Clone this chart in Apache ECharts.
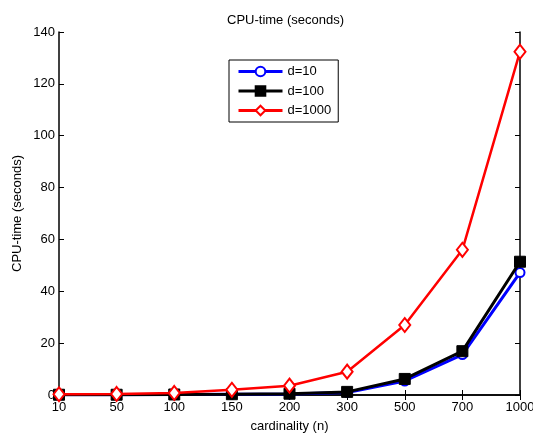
<!DOCTYPE html>
<html><head><meta charset="utf-8">
<script src="https://cdn.jsdelivr.net/npm/echarts@6/dist/echarts.min.js"></script>
<style>html,body{margin:0;padding:0;background:#fff}#c{width:533px;height:434px}</style>
</head><body><div id="c"></div>
<script>
var categories = ['10','50','100','150','200','300','500','700','1000'];
var d10 = [0.1, 0.1, 0.2, 0.3, 0.4, 1.0, 5.4, 15.6, 47.2];
var d100 = [0.1, 0.1, 0.2, 0.3, 0.5, 1.2, 6.2, 16.9, 51.4];
var d1000 = [0.3, 0.4, 0.8, 2.0, 3.6, 9.0, 27.0, 56.0, 132.4];
var yTicks = [0, 20, 40, 60, 80, 100, 120, 140];

var font = 'Liberation Sans, Arial, sans-serif';
var fs = 13;
var chart = echarts.init(document.getElementById('c'));
chart.setOption({
  animation: false,
  backgroundColor: '#fff',
  title: {text: 'CPU-time (seconds)', left: 222, top: 9,
    textStyle: {fontFamily: font, fontSize: 13, fontWeight: 'normal', color: '#000'}},
  grid: {left: 59, right: 13, top: 32, bottom: 39, containLabel: false, outerBoundsMode: 'none'},
  legend: {
    orient: 'vertical', left: 229, top: 60, width: 109,
    padding: [5, 7, 5, 8], itemGap: 6.5, itemWidth: 44, itemHeight: 12,
    borderColor: '#000', borderWidth: 1, backgroundColor: '#fff',
    textStyle: {fontFamily: font, fontSize: fs, color: '#000'},
    data: [
      {name: 'd=10', lineStyle: {width: 3}},
      {name: 'd=100', lineStyle: {width: 3}},
      {name: 'd=1000', lineStyle: {width: 3}}
    ]
  },
  xAxis: [{
    type: 'category', data: categories, boundaryGap: false,
    name: 'cardinality (n)', nameLocation: 'middle', nameGap: 25,
    nameTextStyle: {fontFamily: font, fontSize: fs, color: '#000'},
    axisLine: {lineStyle: {color: '#000', width: 1.5}},
    axisTick: {inside: true, length: 5, lineStyle: {color: '#000'}},
    axisLabel: {fontFamily: font, fontSize: fs, color: '#000', margin: 6, interval: 0},
    splitLine: {show: false}
  }, {
    type: 'category', data: categories, boundaryGap: false, position: 'top',
    axisLine: {lineStyle: {color: '#000', width: 1.5}},
    axisTick: {inside: true, length: 5, lineStyle: {color: '#000'}},
    axisLabel: {show: false}, splitLine: {show: false}
  }],
  yAxis: [{
    type: 'value', min: 0, max: 140, interval: 20,
    name: 'CPU-time (seconds)', nameLocation: 'middle', nameGap: 35, nameMoveOverlap: false,
    nameTextStyle: {fontFamily: font, fontSize: fs, color: '#000'},
    axisLine: {show: true, lineStyle: {color: '#000', width: 1.5}},
    axisTick: {show: true, inside: true, length: 5, lineStyle: {color: '#000'}},
    axisLabel: {fontFamily: font, fontSize: fs, color: '#000', margin: 4,
      formatter: function (v) { return yTicks.indexOf(v) >= 0 ? String(v) : ''; }},
    splitLine: {show: false}
  }, {
    type: 'value', min: 0, max: 140, interval: 20, position: 'right',
    axisLine: {show: true, lineStyle: {color: '#000', width: 1.5}},
    axisTick: {show: true, inside: true, length: 5, lineStyle: {color: '#000'}},
    axisLabel: {show: false}, splitLine: {show: false}
  }],
  series: [{
    name: 'd=10', type: 'line', data: d10, xAxisIndex: 0, yAxisIndex: 0,
    symbol: 'emptyCircle', symbolSize: 9,
    lineStyle: {color: '#0000ff', width: 3}, itemStyle: {color: '#0000ff', borderWidth: 2.5},
    z: 2
  }, {
    name: 'd=100', type: 'line', data: d100,
    symbol: 'rect', symbolSize: 11,
    lineStyle: {color: '#000', width: 3}, itemStyle: {color: '#000', borderColor: '#000', borderWidth: 1},
    z: 3
  }, {
    name: 'd=1000', type: 'line', data: d1000,
    symbol: 'emptyDiamond', symbolSize: [11, 14],
    lineStyle: {color: '#ff0000', width: 2.5}, itemStyle: {color: '#ff0000', borderWidth: 3},
    z: 4
  }]
});
</script></body></html>
